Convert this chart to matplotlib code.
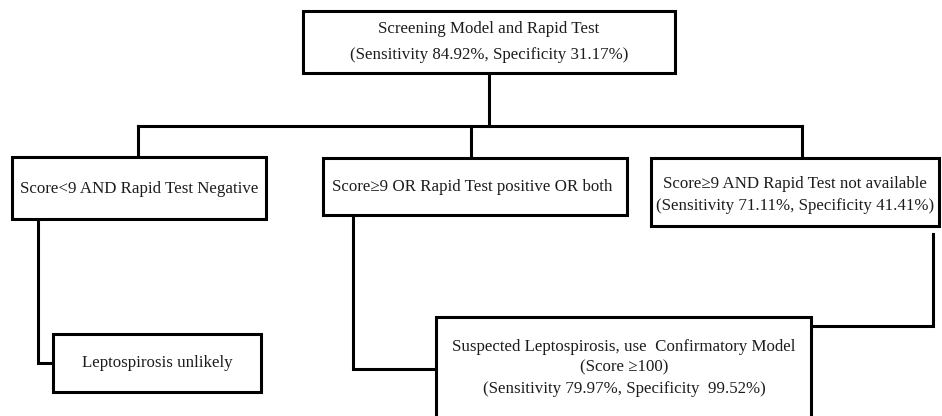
import matplotlib
matplotlib.use("Agg")
import matplotlib.pyplot as plt
from matplotlib.patches import Rectangle

plt.rcParams["font.family"] = ["Liberation Serif", "DejaVu Serif"]

INK = "#1c1c1c"
LW = 2.2

# box labels (one entry per line)
TOP_LINES = ["Screening Model and Rapid Test", "(Sensitivity 84.92%, Specificity 31.17%)"]
LEFT_LINES = ["Score<9 AND Rapid Test Negative"]
MID_LINES = ["Score≥9 OR Rapid Test positive OR both"]
RIGHT_LINES = ["Score≥9 AND Rapid Test not available", "(Sensitivity 71.11%, Specificity 41.41%)"]
UNLIKELY_LINES = ["Leptospirosis unlikely"]
CONFIRM_LINES = ["Suspected Leptospirosis, use  Confirmatory Model", "(Score ≥100)",
                 "(Sensitivity 79.97%, Specificity  99.52%)"]

# layout in pixel units: (x0, y0, x1, y1), text centre x, text line y's
BOXES = [
    ((303, 11, 675, 73), 489, [29, 55], TOP_LINES),
    ((12, 157, 266, 219), 139, [189], LEFT_LINES),
    ((323, 158, 627, 215), 472, [187], MID_LINES),
    ((651, 158, 939, 226), 795, [184, 206], RIGHT_LINES),
    ((53, 334, 261, 392), 157, [363], UNLIKELY_LINES),
    ((436, 317, 811, 425), 624, [347, 367, 389], CONFIRM_LINES),
]

CONNECTORS = [
    [(489, 73), (489, 126)],
    [(138, 126), (802, 126)],
    [(138, 126), (138, 157)],
    [(471, 126), (471, 158)],
    [(802, 126), (802, 158)],
    [(38, 219), (38, 363), (53, 363)],
    [(353, 215), (353, 369), (436, 369)],
    [(933, 234), (933, 326), (811, 326)],
]

fig = plt.figure(figsize=(9.42, 4.16), dpi=100)
fig.patch.set_facecolor("white")
ax = fig.add_axes([0, 0, 1, 1])
ax.set_xlim(0, 942)
ax.set_ylim(416, 0)
ax.axis("off")

for pts in CONNECTORS:
    xs = [p[0] for p in pts]; ys = [p[1] for p in pts]
    ax.plot(xs, ys, color="black", lw=LW, solid_joinstyle="miter", solid_capstyle="projecting")

for (x0, y0, x1, y1), cx, ys, lines in BOXES:
    ax.add_patch(Rectangle((x0, y0), x1 - x0, y1 - y0, facecolor="white",
                           edgecolor="black", lw=LW, joinstyle="miter", zorder=3))
    for y, s in zip(ys, lines):
        ax.text(cx, y, s, ha="center", va="center", fontsize=12.2, color=INK, zorder=4)

fig.savefig("out.png", dpi=100, facecolor="white")
